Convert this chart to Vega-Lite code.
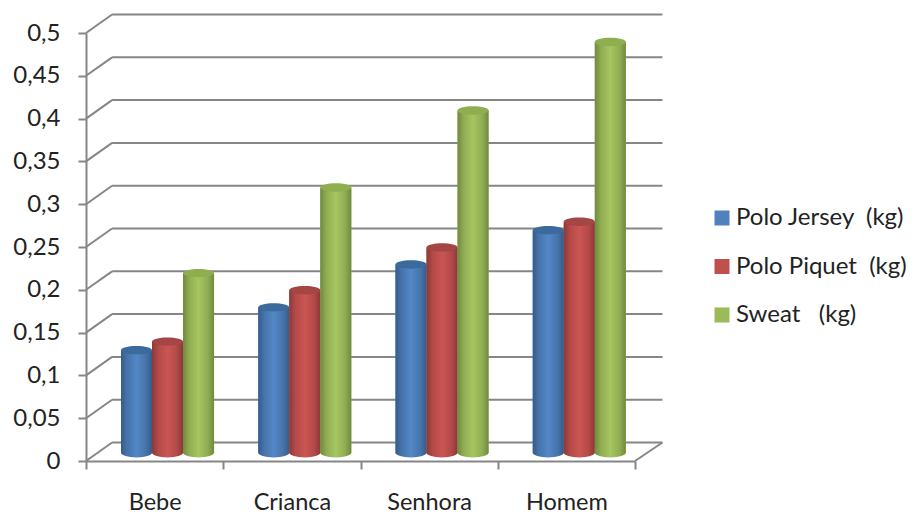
{
  "$schema": "https://vega.github.io/schema/vega-lite/v6.json",
  "width": 549,
  "height": 428,
  "autosize": "none",
  "padding": {"left": 86, "top": 33, "right": 278, "bottom": 53},
  "background": "white",
  "config": {"view": {"stroke": null}, "font": "Lato"},
  "datasets": {
    "weights": [
      {"category": "Bebe", "series": "Polo Jersey\u00a0\u00a0(kg)", "kg": 0.12},
      {"category": "Bebe", "series": "Polo Piquet\u00a0\u00a0(kg)", "kg": 0.13},
      {"category": "Bebe", "series": "Sweat\u00a0\u00a0\u00a0(kg)", "kg": 0.21},
      {"category": "Crianca", "series": "Polo Jersey\u00a0\u00a0(kg)", "kg": 0.17},
      {"category": "Crianca", "series": "Polo Piquet\u00a0\u00a0(kg)", "kg": 0.19},
      {"category": "Crianca", "series": "Sweat\u00a0\u00a0\u00a0(kg)", "kg": 0.31},
      {"category": "Senhora", "series": "Polo Jersey\u00a0\u00a0(kg)", "kg": 0.22},
      {"category": "Senhora", "series": "Polo Piquet\u00a0\u00a0(kg)", "kg": 0.24},
      {"category": "Senhora", "series": "Sweat\u00a0\u00a0\u00a0(kg)", "kg": 0.40},
      {"category": "Homem", "series": "Polo Jersey\u00a0\u00a0(kg)", "kg": 0.26},
      {"category": "Homem", "series": "Polo Piquet\u00a0\u00a0(kg)", "kg": 0.27},
      {"category": "Homem", "series": "Sweat\u00a0\u00a0\u00a0(kg)", "kg": 0.48}
    ],
    "levels": [
      {"level": 0}, {"level": 0.05}, {"level": 0.1}, {"level": 0.15}, {"level": 0.2}, {"level": 0.25},
      {"level": 0.3}, {"level": 0.35}, {"level": 0.4}, {"level": 0.45}, {"level": 0.5}
    ]
  },
  "resolve": {"scale": {"x": "independent"}},
  "layer": [
    {
      "data": {"name": "weights"},
      "mark": {"type": "rule", "opacity": 0},
      "encoding": {
        "x": {
          "field": "category",
          "type": "nominal",
          "sort": null,
          "scale": {"type": "band", "domain": ["Bebe", "Crianca", "Senhora", "Homem"], "paddingInner": 0, "paddingOuter": 0},
          "axis": {
            "title": null,
            "orient": "bottom",
            "tickBand": "extent",
            "labelAngle": 0,
            "domainColor": "#868686",
            "domainWidth": 2,
            "tickColor": "#868686",
            "tickWidth": 2,
            "tickSize": 8,
            "labelFontSize": 23.5,
            "labelColor": "#222222",
            "labelPadding": 21.5,
            "labelFont": "Lato"
          }
        },
        "y": {
          "field": "kg",
          "type": "quantitative",
          "scale": {"domain": [0, 0.5]},
          "axis": {
            "title": null,
            "values": [0, 0.05, 0.1, 0.15, 0.2, 0.25, 0.3, 0.35, 0.4, 0.45, 0.5],
            "labelExpr": "replace(format(datum.value, '.2~f'), '.', ',')",
            "grid": false,
            "domainColor": "#868686",
            "domainWidth": 2,
            "tickColor": "#868686",
            "tickWidth": 2,
            "tickSize": 8,
            "labelFontSize": 24,
            "labelColor": "#222222",
            "labelPadding": 18,
            "labelFont": "Lato"
          }
        }
      }
    },
    {
      "layer": [
        {
          "data": {"name": "levels"},
          "transform": [
            {"calculate": "0", "as": "front"},
            {"calculate": "4", "as": "frontEnd"},
            {"calculate": "0.19", "as": "depth"},
            {"calculate": "4.2", "as": "wallEnd"},
            {"calculate": "datum.level + 0.0216", "as": "wallLevel"}
          ],
          "layer": [
            {
              "mark": {"type": "rule", "color": "#868686", "strokeWidth": 2},
              "encoding": {
                "x": {"field": "front", "type": "quantitative", "scale": {"domain": [0, 4]}, "axis": null},
                "x2": {"field": "depth"},
                "y": {"field": "level", "type": "quantitative", "scale": {"domain": [0, 0.5]}},
                "y2": {"field": "wallLevel"}
              }
            },
            {
              "mark": {"type": "rule", "color": "#868686", "strokeWidth": 2},
              "encoding": {
                "x": {"field": "depth", "type": "quantitative", "scale": {"domain": [0, 4]}, "axis": null},
                "x2": {"field": "wallEnd"},
                "y": {"field": "wallLevel", "type": "quantitative", "scale": {"domain": [0, 0.5]}}
              }
            },
            {
              "transform": [{"filter": "datum.level === 0"}],
              "mark": {"type": "rule", "color": "#868686", "strokeWidth": 2},
              "encoding": {
                "x": {"field": "frontEnd", "type": "quantitative", "scale": {"domain": [0, 4]}, "axis": null},
                "x2": {"field": "wallEnd"},
                "y": {"field": "level", "type": "quantitative", "scale": {"domain": [0, 0.5]}},
                "y2": {"field": "wallLevel"}
              }
            }
          ]
        },
        {
          "data": {"name": "weights"},
          "transform": [
            {"calculate": "indexof(['Bebe', 'Crianca', 'Senhora', 'Homem'], datum.category)", "as": "slot"},
            {"calculate": "indexof(datum.series, 'Jersey') >= 0 ? 0 : indexof(datum.series, 'Piquet') >= 0 ? 1 : 2", "as": "seriesIndex"},
            {"calculate": "datum.slot + 0.255 + datum.seriesIndex * 0.226", "as": "left"},
            {"calculate": "datum.left + 0.226", "as": "right"},
            {"calculate": "datum.left + 0.113", "as": "center"},
            {"calculate": "0.0095", "as": "base"},
            {"calculate": "datum.kg + 0.0095", "as": "top"}
          ],
          "layer": [
            {
              "mark": {"type": "rect"},
              "encoding": {
                "x": {"field": "left", "type": "quantitative", "scale": {"domain": [0, 4]}, "axis": null},
                "x2": {"field": "right"},
                "y": {"field": "base", "type": "quantitative", "scale": {"domain": [0, 0.5]}},
                "y2": {"field": "top"},
                "color": {
                  "field": "series",
                  "type": "nominal",
                  "sort": null,
                  "scale": {
                    "domain": ["Polo Jersey\u00a0\u00a0(kg)", "Polo Piquet\u00a0\u00a0(kg)", "Sweat\u00a0\u00a0\u00a0(kg)"],
                    "range": ["#4f81bd", "#c0504d", "#9bbb59"]
                  },
                  "legend": {
                    "title": null,
                    "orient": "none",
                    "legendX": 624,
                    "legendY": 173,
                    "symbolType": "square",
                    "symbolSize": 225,
                    "symbolStrokeWidth": 0,
                    "labelFontSize": 24,
                    "labelColor": "#222222",
                    "labelFont": "Lato",
                    "labelOffset": 2,
                    "labelLimit": 220,
                    "rowPadding": 24.5
                  }
                }
              }
            },
            {
              "transform": [{"filter": "datum.seriesIndex === 0"}],
              "mark": {"type": "rect", "fill": {"gradient": "linear", "x1": 0, "y1": 0, "x2": 1, "y2": 0, "stops": [{"offset": 0, "color": "#355c8a"}, {"offset": 0.2, "color": "#4674ab"}, {"offset": 0.5, "color": "#5387c6"}, {"offset": 0.8, "color": "#4674ab"}, {"offset": 1, "color": "#355c8a"}]}},
              "encoding": {
                "x": {"field": "left", "type": "quantitative", "scale": {"domain": [0, 4]}, "axis": null},
                "x2": {"field": "right"},
                "y": {"field": "base", "type": "quantitative", "scale": {"domain": [0, 0.5]}},
                "y2": {"field": "top"}
              }
            },
            {
              "transform": [{"filter": "datum.seriesIndex === 0"}],
              "mark": {"type": "point", "filled": true, "opacity": 1, "size": 961, "shape": "M-1,0 A1,0.3,0,1,1,1,0 A1,0.3,0,1,1,-1,0 Z", "fill": {"gradient": "linear", "x1": 0, "y1": 0, "x2": 1, "y2": 0, "stops": [{"offset": 0, "color": "#355c8a"}, {"offset": 0.2, "color": "#4674ab"}, {"offset": 0.5, "color": "#5387c6"}, {"offset": 0.8, "color": "#4674ab"}, {"offset": 1, "color": "#355c8a"}]}},
              "encoding": {
                "x": {"field": "center", "type": "quantitative", "scale": {"domain": [0, 4]}, "axis": null},
                "y": {"field": "base", "type": "quantitative", "scale": {"domain": [0, 0.5]}}
              }
            },
            {
              "transform": [{"filter": "datum.seriesIndex === 0"}],
              "mark": {"type": "point", "filled": true, "opacity": 1, "size": 961, "shape": "M-1,0 A1,0.27,0,1,1,1,0 A1,0.27,0,1,1,-1,0 Z", "fill": "#3b6a9c"},
              "encoding": {
                "x": {"field": "center", "type": "quantitative", "scale": {"domain": [0, 4]}, "axis": null},
                "y": {"field": "top", "type": "quantitative", "scale": {"domain": [0, 0.5]}}
              }
            },
            {
              "transform": [{"filter": "datum.seriesIndex === 1"}],
              "mark": {"type": "rect", "fill": {"gradient": "linear", "x1": 0, "y1": 0, "x2": 1, "y2": 0, "stops": [{"offset": 0, "color": "#8a3937"}, {"offset": 0.2, "color": "#b34a48"}, {"offset": 0.5, "color": "#cb5553"}, {"offset": 0.8, "color": "#b34a48"}, {"offset": 1, "color": "#8a3937"}]}},
              "encoding": {
                "x": {"field": "left", "type": "quantitative", "scale": {"domain": [0, 4]}, "axis": null},
                "x2": {"field": "right"},
                "y": {"field": "base", "type": "quantitative", "scale": {"domain": [0, 0.5]}},
                "y2": {"field": "top"}
              }
            },
            {
              "transform": [{"filter": "datum.seriesIndex === 1"}],
              "mark": {"type": "point", "filled": true, "opacity": 1, "size": 961, "shape": "M-1,0 A1,0.3,0,1,1,1,0 A1,0.3,0,1,1,-1,0 Z", "fill": {"gradient": "linear", "x1": 0, "y1": 0, "x2": 1, "y2": 0, "stops": [{"offset": 0, "color": "#8a3937"}, {"offset": 0.2, "color": "#b34a48"}, {"offset": 0.5, "color": "#cb5553"}, {"offset": 0.8, "color": "#b34a48"}, {"offset": 1, "color": "#8a3937"}]}},
              "encoding": {
                "x": {"field": "center", "type": "quantitative", "scale": {"domain": [0, 4]}, "axis": null},
                "y": {"field": "base", "type": "quantitative", "scale": {"domain": [0, 0.5]}}
              }
            },
            {
              "transform": [{"filter": "datum.seriesIndex === 1"}],
              "mark": {"type": "point", "filled": true, "opacity": 1, "size": 961, "shape": "M-1,0 A1,0.27,0,1,1,1,0 A1,0.27,0,1,1,-1,0 Z", "fill": "#a34644"},
              "encoding": {
                "x": {"field": "center", "type": "quantitative", "scale": {"domain": [0, 4]}, "axis": null},
                "y": {"field": "top", "type": "quantitative", "scale": {"domain": [0, 0.5]}}
              }
            },
            {
              "transform": [{"filter": "datum.seriesIndex === 2"}],
              "mark": {"type": "rect", "fill": {"gradient": "linear", "x1": 0, "y1": 0, "x2": 1, "y2": 0, "stops": [{"offset": 0, "color": "#6f8a3f"}, {"offset": 0.2, "color": "#90ad52"}, {"offset": 0.5, "color": "#a6c660"}, {"offset": 0.8, "color": "#90ad52"}, {"offset": 1, "color": "#6f8a3f"}]}},
              "encoding": {
                "x": {"field": "left", "type": "quantitative", "scale": {"domain": [0, 4]}, "axis": null},
                "x2": {"field": "right"},
                "y": {"field": "base", "type": "quantitative", "scale": {"domain": [0, 0.5]}},
                "y2": {"field": "top"}
              }
            },
            {
              "transform": [{"filter": "datum.seriesIndex === 2"}],
              "mark": {"type": "point", "filled": true, "opacity": 1, "size": 961, "shape": "M-1,0 A1,0.3,0,1,1,1,0 A1,0.3,0,1,1,-1,0 Z", "fill": {"gradient": "linear", "x1": 0, "y1": 0, "x2": 1, "y2": 0, "stops": [{"offset": 0, "color": "#6f8a3f"}, {"offset": 0.2, "color": "#90ad52"}, {"offset": 0.5, "color": "#a6c660"}, {"offset": 0.8, "color": "#90ad52"}, {"offset": 1, "color": "#6f8a3f"}]}},
              "encoding": {
                "x": {"field": "center", "type": "quantitative", "scale": {"domain": [0, 4]}, "axis": null},
                "y": {"field": "base", "type": "quantitative", "scale": {"domain": [0, 0.5]}}
              }
            },
            {
              "transform": [{"filter": "datum.seriesIndex === 2"}],
              "mark": {"type": "point", "filled": true, "opacity": 1, "size": 961, "shape": "M-1,0 A1,0.27,0,1,1,1,0 A1,0.27,0,1,1,-1,0 Z", "fill": "#8fae50"},
              "encoding": {
                "x": {"field": "center", "type": "quantitative", "scale": {"domain": [0, 4]}, "axis": null},
                "y": {"field": "top", "type": "quantitative", "scale": {"domain": [0, 0.5]}}
              }
            }
          ]
        }
      ]
    }
  ]
}
